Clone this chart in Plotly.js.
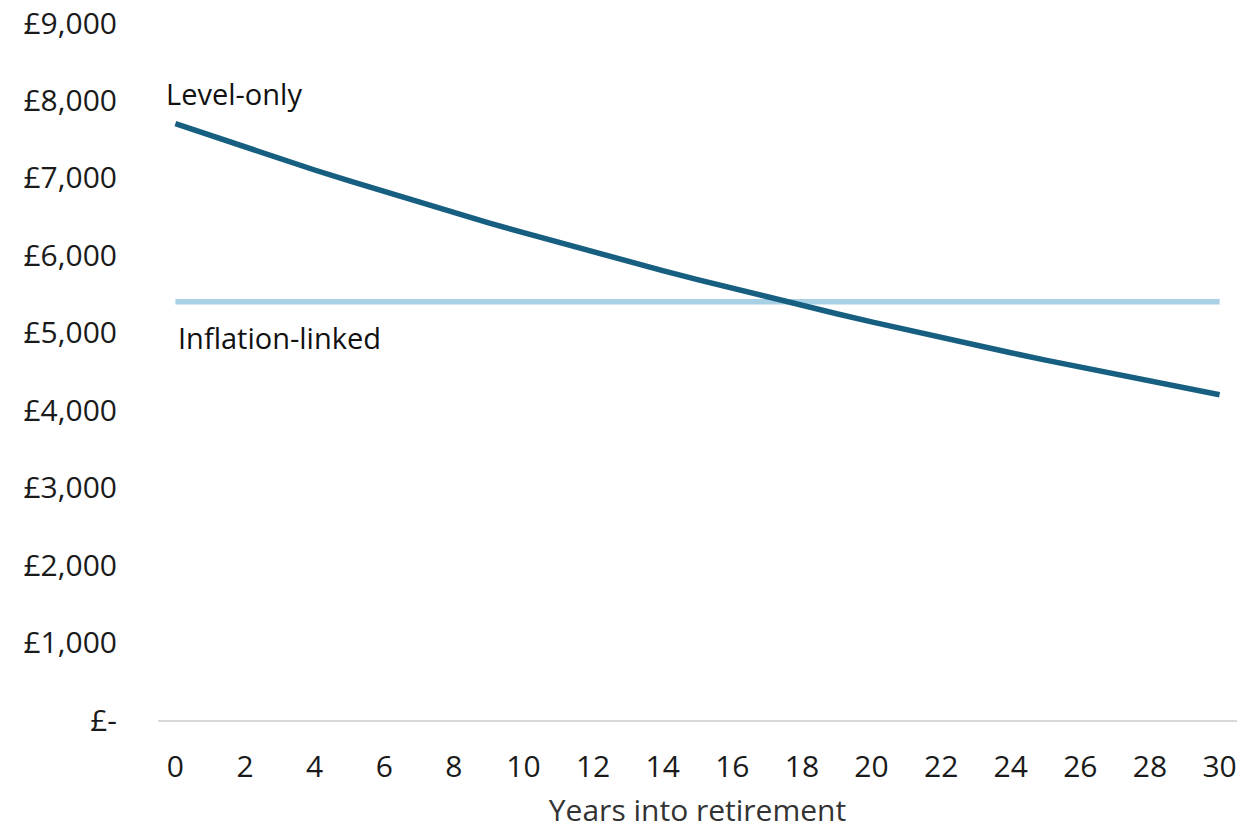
<!DOCTYPE html>
<html>
<head>
<meta charset="utf-8">
<script src="https://cdn.plot.ly/plotly-3.0.1.min.js"></script>
<style>html,body{margin:0;padding:0;background:#fff;}#chart{width:1249px;height:830px;}</style>
</head>
<body>
<div id="chart"></div>
<script>
const years = [0,1,2,3,4,5,6,7,8,9,10,11,12,13,14,15,16,17,18,19,20,21,22,23,24,25,26,27,28,29,30];
const levelOnly = [7700,7546,7395,7247,7102,6960,6821,6685,6551,6420,6292,6166,6042,5921,5803,5687,5573,5462,5353,5246,5141,5038,4937,4839,4742,4647,4554,4463,4374,4286,4200];
const inflationLinked = [5400,5400,5400,5400,5400,5400,5400,5400,5400,5400,5400,5400,5400,5400,5400,5400,5400,5400,5400,5400,5400,5400,5400,5400,5400,5400,5400,5400,5400,5400,5400];
const xTickVals = [0,2,4,6,8,10,12,14,16,18,20,22,24,26,28,30];
const yTickVals = [0,1000,2000,3000,4000,5000,6000,7000,8000,9000];
const yTickText = ['£-','£1,000','£2,000','£3,000','£4,000','£5,000','£6,000','£7,000','£8,000','£9,000'];
const seriesNames = ['Level-only','Inflation-linked'];

const FONT = '"Open Sans", "Noto Sans", sans-serif';
const traces = [
  {x: years, y: inflationLinked, name: seriesNames[1], mode: 'lines', line: {color: '#a8d1e6', width: 5.5}},
  {x: years, y: levelOnly, name: seriesNames[0], mode: 'lines', line: {color: '#165f80', width: 5.5}}
];
const layout = {
  width: 1249, height: 830,
  margin: {l: 158, r: 12, t: 23, b: 110},
  paper_bgcolor: '#fff', plot_bgcolor: '#fff',
  showlegend: false,
  font: {family: FONT, color: '#1a1a1a'},
  xaxis: {
    range: [-0.5, 30.5], tickvals: xTickVals, ticks: '', showgrid: false, zeroline: false,
    showline: true, linecolor: '#d9d9d9', linewidth: 2,
    tickfont: {family: FONT, size: 30, color: '#1a1a1a'}, ticklabelstandoff: 19,
    title: {text: 'Years into retirement', font: {family: FONT, size: 30, color: '#333'}, standoff: 21}
  },
  yaxis: {
    range: [0, 9000], tickvals: yTickVals, ticktext: yTickText, ticks: '', showgrid: false, zeroline: false,
    showline: false, tickfont: {family: FONT, size: 30, color: '#1a1a1a'}, ticklabelstandoff: 40
  },
  annotations: [
    {x: -0.34, y: 8090, xref: 'x', yref: 'y', text: seriesNames[0], showarrow: false, xanchor: 'left', yanchor: 'middle',
     font: {family: FONT, size: 29, color: '#111'}},
    {x: 0.03, y: 4937, xref: 'x', yref: 'y', text: seriesNames[1], showarrow: false, xanchor: 'left', yanchor: 'middle',
     font: {family: FONT, size: 29, color: '#111'}}
  ]
};
Plotly.newPlot('chart', traces, layout, {displayModeBar: false, staticPlot: true});
</script>
</body>
</html>
